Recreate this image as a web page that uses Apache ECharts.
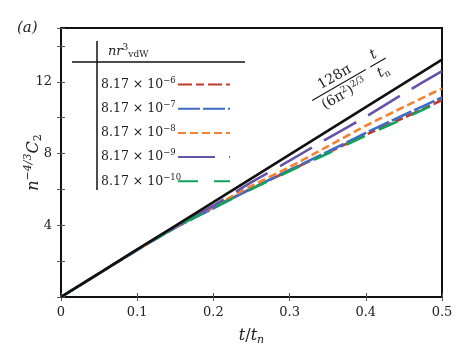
<!DOCTYPE html>
<html>
<head>
<meta charset="utf-8">
<script src="https://cdn.jsdelivr.net/npm/echarts@6/dist/echarts.min.js"></script>
<style>
html,body{margin:0;padding:0;background:#fff;}
#chart{width:469px;height:358px;}
</style>
</head>
<body>
<div id="chart"></div>
<script>
// t / t_n sample points
var tVals = [0, 0.05, 0.1, 0.15, 0.2, 0.25, 0.3, 0.35, 0.4, 0.45, 0.5];
// reference line 128pi/(6pi^2)^(2/3) * t
var refLine = [0, 1.32, 2.65, 3.97, 5.29, 6.62, 7.94, 9.26, 10.59, 11.91, 13.24];
var series6 = [0, 1.32, 2.63, 3.88, 5.0, 6.05, 7.05, 8.05, 9.05, 10.0, 10.98];
var series7 = [0, 1.32, 2.62, 3.86, 4.95, 6.05, 7.08, 8.1, 9.15, 10.15, 11.13];
var series8 = [0, 1.32, 2.63, 3.9, 5.05, 6.2, 7.25, 8.4, 9.55, 10.6, 11.63];
var series9 = [0, 1.32, 2.64, 3.92, 5.1, 6.4, 7.6, 8.85, 10.05, 11.35, 12.6];
var series10 = [0, 1.32, 2.63, 3.88, 4.98, 6.02, 7.02, 8.0, 9.0, 9.95, 10.93];
var legendNames = ['8.17 × 10^−6', '8.17 × 10^−7', '8.17 × 10^−8', '8.17 × 10^−9', '8.17 × 10^−10'];
var yLabels = [4, 8, 12];
var xLabels = [0, 0.1, 0.2, 0.3, 0.4, 0.5];

function pairs(ys){
    return tVals.map(function(t,i){ return [t, ys[i]] })
}

var serif = 'DejaVu Serif';
var chart = echarts.init(document.getElementById('chart'));

function mk(name, ys, color, dash){
    return {
        name: name,
        type: 'line',
        data: pairs(ys),
        symbol: 'none',
        showSymbol: false,
        smooth: 0.2,
        lineStyle: {color: color, width: 2.6, type: dash},
        itemStyle: {color: color},
        z: 3
    }
}

var option = {
    animation: false,
    grid: {left: 61, right: 27, top: 28, bottom: 61, show: true, borderColor: '#111', borderWidth: 2,
        containLabel: false, outerBoundsMode: 'none'},
    legend: {
        orient: 'vertical',
        left: 101,
        top: 76,
        padding: 0,
        align: 'right',
        itemWidth: 52,
        itemHeight: 14,
        itemGap: 9.2,
        itemStyle: {opacity: 0},
        data: legendNames,
        formatter: function(n){
            var p = n.split('^');
            return '{m|' + p[0] + '}{sup|' + p[1] + '}';
        },
        textStyle: {
            fontFamily: serif, fontSize: 12.5, color: '#222', width: 72,
            rich: {
                m: {fontFamily: serif, fontSize: 12.5, color: '#222', align: 'left'},
                sup: {fontFamily: serif, fontSize: 8.5, align: 'left', verticalAlign: 'bottom', padding: [0,0,8,0], color: '#222'}
            }
        }
    },
    xAxis: [{
        type: 'value', min: 0, max: 0.5, interval: 0.1,
        name: '{i|t}/{i|t}{sub|n}', nameLocation: 'middle', nameGap: 28, nameMoveOverlap: false,
        nameTextStyle: {rich: {
            i: {fontFamily: serif, fontStyle: 'italic', fontSize: 16, color: '#222'},
            sub: {fontFamily: serif, fontStyle: 'italic', fontSize: 11, color: '#222', verticalAlign: 'top', padding: [10,0,0,0]}
        }, fontFamily: serif, fontSize: 16, color: '#222'},
        axisLine: {lineStyle: {color: '#111', width: 2}},
        axisTick: {inside: true, length: 4, lineStyle: {color: '#555', width: 1}},
        axisLabel: {fontFamily: serif, fontSize: 13, color: '#222', margin: 9,
            formatter: function(v){ var r = Math.round(v*10)/10; return xLabels.indexOf(r) >= 0 ? String(r) : '' }},
        splitLine: {show: false}
    }, {
        type: 'value', min: 0, max: 0.5, interval: 0.1, position: 'top',
        axisLine: {show: false},
        axisTick: {inside: true, length: 4, lineStyle: {color: '#555', width: 1}},
        axisLabel: {show: false}, splitLine: {show: false}
    }],
    yAxis: [{
        type: 'value', min: 0, max: 15, interval: 2,
        name: '{i|n}{sup|−4/3}{i|C}{sub|2}', nameLocation: 'middle', nameGap: 17, nameMoveOverlap: false,
        nameTextStyle: {rich: {
            i: {fontFamily: serif, fontStyle: 'italic', fontSize: 16, color: '#222'},
            sup: {fontFamily: serif, fontStyle: 'italic', fontSize: 11, color: '#222', verticalAlign: 'bottom', padding: [0,0,10,0]},
            sub: {fontFamily: serif, fontSize: 11, color: '#222', verticalAlign: 'top', padding: [10,0,0,0]}
        }, fontFamily: serif, fontSize: 16, color: '#222'},
        axisLine: {lineStyle: {color: '#111', width: 2}},
        axisTick: {inside: true, length: 4, lineStyle: {color: '#555', width: 1}},
        axisLabel: {fontFamily: serif, fontSize: 13, color: '#222', margin: 9,
            formatter: function(v){ return yLabels.indexOf(v) >= 0 ? String(v) : '' }},
        splitLine: {show: false}
    }, {
        type: 'value', min: 0, max: 15, interval: 2, position: 'right',
        axisLine: {show: false},
        axisTick: {inside: true, length: 4, lineStyle: {color: '#555', width: 1}},
        axisLabel: {show: false}, splitLine: {show: false}
    }],
    series: [
        mk(legendNames[0], series6, '#c0392b', [14,4,8,4]),
        mk(legendNames[1], series7, '#3d6cc4', [22,3]),
        mk(legendNames[2], series8, '#f58231', [8,4]),
        mk(legendNames[3], series9, '#6553a8', [37,14]),
        mk(legendNames[4], series10, '#15a05a', [20,16]),
        {
            name: 'ref', type: 'line', data: pairs(refLine), symbol: 'none',
            lineStyle: {color: '#111', width: 2.6}, z: 4
        }
    ],
    graphic: [
        {type: 'text', left: 17, top: 21, style: {text: '(a)', fontFamily: serif, fontStyle: 'italic', fontSize: 15, fill: '#222'}},
        {type: 'line', shape: {x1: 97, y1: 41, x2: 97, y2: 190}, style: {stroke: '#111', lineWidth: 1.5}},
        {type: 'line', shape: {x1: 72, y1: 62, x2: 245, y2: 62}, style: {stroke: '#111', lineWidth: 1.5}},
        {type: 'text', x: 108, y: 52, style: {
            text: '{i|nr}{sup|3}{sub|vdW}', textVerticalAlign: 'middle',
            rich: {
                i: {fontFamily: serif, fontStyle: 'italic', fontSize: 13, fill: '#222'},
                sup: {fontFamily: serif, fontSize: 9, fill: '#222', verticalAlign: 'bottom', padding: [0,0,8,0]},
                sub: {fontFamily: serif, fontSize: 9, fill: '#222', verticalAlign: 'top', padding: [7,0,0,0]}
            }
        }},
        {
            type: 'group', x: 339, y: 85, rotation: 30 * Math.PI / 180,
            children: [
                {type: 'line', shape: {x1: -31, y1: 0, x2: 31, y2: 0}, style: {stroke: '#111', lineWidth: 1}},
                {type: 'text', x: 0, y: -2, style: {text: '128π', fontFamily: serif, fontSize: 14, fill: '#222', textAlign: 'center', textVerticalAlign: 'bottom'}},
                {type: 'text', x: 0, y: 2, style: {
                    text: '(6π{s|2}){s|2/3}', textAlign: 'center', textVerticalAlign: 'top',
                    fontFamily: serif, fontSize: 14, fill: '#222',
                    rich: {s: {fontFamily: serif, fontSize: 9, fill: '#222', verticalAlign: 'bottom', padding: [0,0,8,0]}}
                }},
                {type: 'line', shape: {x1: 36, y1: 0, x2: 54, y2: 0}, style: {stroke: '#111', lineWidth: 1}},
                {type: 'text', x: 45, y: -2, style: {text: 't', fontFamily: serif, fontStyle: 'italic', fontSize: 14, fill: '#222', textAlign: 'center', textVerticalAlign: 'bottom'}},
                {type: 'text', x: 45, y: 2, style: {
                    text: '{i|t}{s|n}', textAlign: 'center', textVerticalAlign: 'top',
                    rich: {
                        i: {fontFamily: serif, fontStyle: 'italic', fontSize: 14, fill: '#222'},
                        s: {fontFamily: serif, fontSize: 9, fill: '#222', verticalAlign: 'top', padding: [8,0,0,0]}
                    }
                }}
            ]
        }
    ]
};
chart.setOption(option);
</script>
</body>
</html>
